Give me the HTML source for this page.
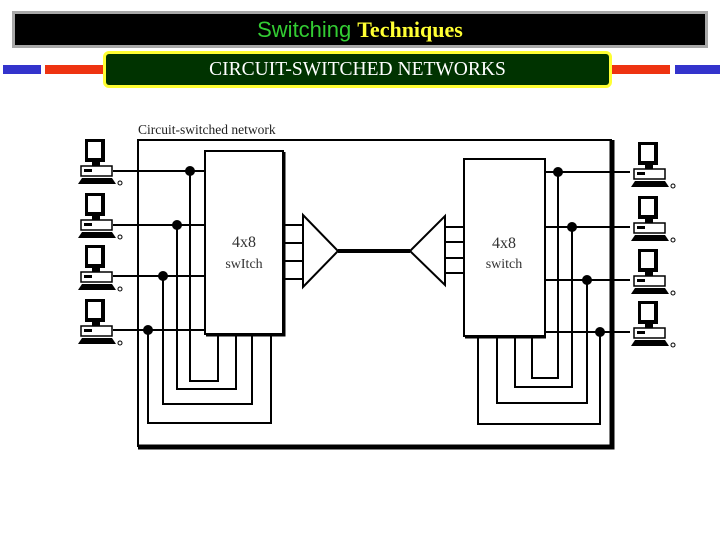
<!DOCTYPE html>
<html><head><meta charset="utf-8"><style>
html,body{margin:0;padding:0;background:#fff;width:720px;height:540px;overflow:hidden;position:relative}
.t{position:absolute;left:12px;top:11px;width:690px;height:31px;background:#000;border:3px solid #a8a8a8;text-align:center;font-size:24px;line-height:31px}
.s{position:absolute;left:103px;top:51px;width:503px;height:31px;background:#003300;border:3px solid #ffff33;border-radius:6px;color:#fff;text-align:center;font:19.5px/31px "Liberation Serif",serif}
.b{position:absolute;height:9px;top:65px}
</style></head><body>
<div class="t"><span style="color:#33cc33;font-family:'Liberation Sans',sans-serif;font-size:22px">Switching</span> <span style="color:#ffff33;font-family:'Liberation Serif',serif;font-weight:bold;font-size:22px">Techniques</span></div>
<div class="b" style="left:3px;width:38px;background:#3333cc"></div>
<div class="b" style="left:45px;width:60px;background:#ee3311"></div>
<div class="b" style="left:606px;width:64px;background:#ee3311"></div>
<div class="b" style="left:675px;width:45px;background:#3333cc"></div>
<div class="s">CIRCUIT-SWITCHED NETWORKS</div>
<svg width="720" height="540" style="position:absolute;left:0;top:0" fill="none" stroke="#000">
<defs><g id="pc">
<rect x="7" y="0" width="20" height="23" fill="#000" stroke="none"/>
<rect x="10" y="3" width="13" height="16" fill="#fff" stroke="none"/>
<rect x="14" y="23" width="8" height="4" fill="#000" stroke="none"/>
<rect x="3" y="27" width="31" height="10" fill="#fff" stroke="#000" stroke-width="1.5"/>
<rect x="6" y="30" width="8" height="3" fill="#000" stroke="none"/>
<path d="M0 45 L4 39 L34 39 L38 45 Z" fill="#000" stroke="none"/>
<circle cx="42" cy="44" r="2" stroke-width="1"/>
</g></defs>
<text x="138" y="134" fill="#222" stroke="none" font-family="Liberation Serif,serif" font-size="13.5">Circuit-switched network</text>
<path d="M138 447 L138 140 L612 140" stroke-width="2"/>
<path d="M612 140 L612 447 L138 447" stroke-width="5"/>
<rect x="205" y="151" width="78" height="183" stroke-width="2" fill="#fff"/>
<path d="M206 335 L284 335 L284 152" stroke-width="3"/>
<rect x="464" y="159" width="81" height="177" stroke-width="2" fill="#fff"/>
<path d="M465 337 L546 337" stroke-width="3"/>
<text x="244" y="247" fill="#333" stroke="none" font-family="Liberation Serif,serif" font-size="16" text-anchor="middle">4x8</text>
<text x="244" y="268" fill="#333" stroke="none" font-family="Liberation Serif,serif" font-size="14" text-anchor="middle">swItch</text>
<text x="504" y="248" fill="#333" stroke="none" font-family="Liberation Serif,serif" font-size="16" text-anchor="middle">4x8</text>
<text x="504" y="268" fill="#333" stroke="none" font-family="Liberation Serif,serif" font-size="14" text-anchor="middle">switch</text>
<g stroke-width="2">
<path d="M113 171H205M113 225H205M113 276H205M113 330H205"/>
<path d="M190 171V381H218V335M177 225V389H236V335M163 276V404H252V335M148 330V423H271V335"/>
<path d="M545 172H630M545 227H630M545 280H630M545 332H630"/>
<path d="M558 172V378H532V337M572 227V387H515V337M587 280V403H497V337M600 332V424H478V337"/>
<path d="M283 225H303M283 243H303M283 261H303M283 279H303"/>
<path d="M303 215V287L338 251Z"/>
<path d="M445 227H465M445 242H465M445 258H465M445 273H465"/>
<path d="M445 216V285L410 251Z"/>
</g>
<path d="M338 251H410" stroke-width="4"/>
<g fill="#000" stroke="none">
<circle cx="190" cy="171" r="5"/><circle cx="177" cy="225" r="5"/><circle cx="163" cy="276" r="5"/><circle cx="148" cy="330" r="5"/>
<circle cx="558" cy="172" r="5"/><circle cx="572" cy="227" r="5"/><circle cx="587" cy="280" r="5"/><circle cx="600" cy="332" r="5"/>
</g>
<use href="#pc" x="78" y="139"/><use href="#pc" x="78" y="193"/><use href="#pc" x="78" y="245"/><use href="#pc" x="78" y="299"/>
<use href="#pc" x="631" y="142"/><use href="#pc" x="631" y="196"/><use href="#pc" x="631" y="249"/><use href="#pc" x="631" y="301"/>
</svg>
</body></html>
